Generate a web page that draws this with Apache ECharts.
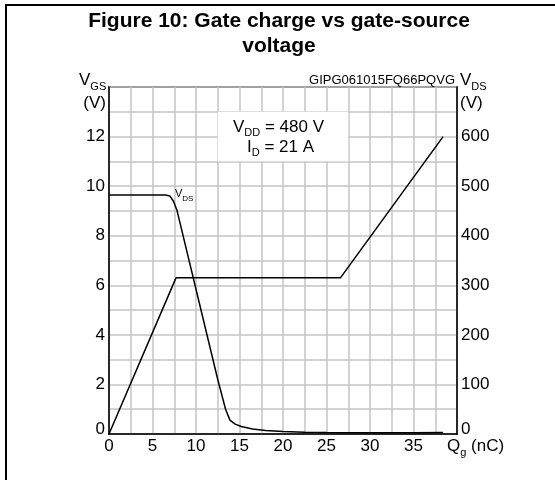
<!DOCTYPE html>
<html>
<head>
<meta charset="utf-8">
<script src="https://cdn.jsdelivr.net/npm/echarts@6/dist/echarts.min.js"></script>
<style>
html,body{margin:0;padding:0;background:#fff;}
#c{width:555px;height:480px;}
</style>
</head>
<body>
<div id="c"></div>
<script>
// ---- data ----
const titleLines = ['Figure 10: Gate charge vs gate-source', 'voltage'];
const codeText = 'GIPG061015FQ66PQVG';
const qgVgs = [0, 7.7, 26.6, 38.4];
const vgs = [0, 6.3, 6.3, 12];
const qgVds = [0, 6.5, 7.0, 7.4, 7.8, 12.5, 13.4, 13.9, 14.5, 15.2, 16.5, 18, 20, 22.5, 25, 30, 35, 38.4];
const vds = [482, 482, 480, 470, 452, 110, 50, 28, 20, 15, 10, 7, 5, 3.5, 3, 2.5, 2.5, 3];
const xLabels = [0, 5, 10, 15, 20, 25, 30, 35];
const yLeftLabels = [0, 2, 4, 6, 8, 10, 12];
const yRightLabels = [0, 100, 200, 300, 400, 500, 600];
const condBox = { x0: 12.5, x1: 27.5, y0: 11, y1: 13 };

const FF = '"Liberation Sans", Arial, sans-serif';
const cvs = document.createElement('canvas').getContext('2d');
function tw(t, size, weight) { cvs.font = (weight || 'normal') + ' ' + size + 'px ' + FF; return cvs.measureText(t).width; }
function txt(x, y, t, size, align, extra) {
  return Object.assign({ type: 'text', x: x, y: y, z: 100,
    style: { text: t, fontSize: size, fontFamily: FF, fill: '#000', textAlign: align || 'left', textVerticalAlign: 'middle' } }, extra || {});
}
// main text + subscript; x = left edge, y = center of main text
function subTxt(x, y, main, sub, size, subSize, dy) {
  const w = tw(main, size);
  return [txt(x, y, main, size, 'left'), txt(x + w, y + dy, sub, subSize, 'left')];
}
function pair(a, b) { return a.map((v, i) => [v, b[i]]); }

const chart = echarts.init(document.getElementById('c'), null, { renderer: 'canvas' });

const graphics = [
  { type: 'rect', shape: { x: 6, y: 5, width: 700, height: 700 }, style: { fill: 'none', stroke: '#000', lineWidth: 2 }, z: 100 },
  txt(279, 21, titleLines[0], 21, 'center', {}),
  txt(279, 46, titleLines[1], 21, 'center', {}),
  txt(455, 80, codeText, 13, 'right'),
  txt(106, 103, '(V)', 17, 'right'),
  txt(460, 103, '(V)', 17, 'left'),
  txt(486, 446, ' (nC)', 17, 'left')
];
graphics[1].style.fontWeight = 'bold';
graphics[2].style.fontWeight = 'bold';
graphics.push(...subTxt(79, 80, 'V', 'GS', 17, 11, 7));
graphics.push(...subTxt(460, 80, 'V', 'DS', 17, 11, 7));
graphics.push(...subTxt(447, 446, 'Q', 'g', 17, 11, 7));
graphics.push(...subTxt(233, 127, 'V', 'DD', 17, 11, 6));
graphics.push(...subTxt(175, 194, 'V', 'DS', 11, 8, 5));
(function () {
  const wV = tw('V', 17), wDD = tw('DD', 11);
  graphics.push(txt(233 + wV + wDD, 127, ' = 480 V', 17, 'left'));
  const wI = tw('I', 17), wD = tw('D', 11);
  graphics.push(...subTxt(247, 147, 'I', 'D', 17, 11, 6));
  graphics.push(txt(247 + wI + wD, 147, ' = 21 A', 17, 'left'));
})();
(function () {
  const w = tw('Q', 17) + tw('g', 11);
  graphics[6].x = 447 + w;
})();

const option = {
  animation: false,
  backgroundColor: '#fff',
  grid: { left: 109, right: 98, top: 87, bottom: 46, containLabel: false, outerBoundsMode: 'none',
    show: true, borderColor: '#000', borderWidth: 1.5, backgroundColor: 'transparent' },
  xAxis: {
    type: 'value', min: 0, max: 40, interval: 2.5,
    axisLine: { show: true, lineStyle: { color: '#000', width: 1.5 } },
    axisTick: { show: false },
    axisLabel: { color: '#000', fontSize: 17, fontFamily: FF, margin: 4,
      formatter: v => (xLabels.indexOf(v) >= 0 ? String(v) : '') },
    splitLine: { show: true, lineStyle: { color: '#c4c4c4', width: 1.5 } }
  },
  yAxis: [
    { type: 'value', min: 0, max: 14, interval: 1, position: 'left',
      axisLine: { show: true, lineStyle: { color: '#000', width: 1.5 } },
      axisTick: { show: false },
      axisLabel: { color: '#000', fontSize: 17, fontFamily: FF, margin: 4,
        formatter: v => (yLeftLabels.indexOf(v) >= 0 ? (v === 0 ? '{z|0}' : String(v)) : ''),
        rich: { z: { fontSize: 17, fontFamily: FF, color: '#000', padding: [0, 0, 10, 0] } } },
      splitLine: { show: true, lineStyle: { color: '#c4c4c4', width: 1.5 } } },
    { type: 'value', min: 0, max: 700, interval: 50, position: 'right',
      axisLine: { show: true, lineStyle: { color: '#000', width: 1.5 } },
      axisTick: { show: false },
      axisLabel: { color: '#000', fontSize: 17, fontFamily: FF, margin: 4,
        formatter: v => (yRightLabels.indexOf(v) >= 0 ? (v === 0 ? '{z|0}' : String(v)) : ''),
        rich: { z: { fontSize: 17, fontFamily: FF, color: '#000', padding: [0, 0, 10, 0] } } },
      splitLine: { show: false } }
  ],
  series: [
    { type: 'line', name: 'VGS', yAxisIndex: 0, data: pair(qgVgs, vgs), showSymbol: false, symbol: 'none',
      lineStyle: { color: '#000', width: 1.5 },
      markArea: { silent: true, itemStyle: { color: '#fff' },
        data: [[{ coord: [condBox.x0, condBox.y1] }, { coord: [condBox.x1, condBox.y0] }]] } },
    { type: 'line', name: 'VDS', yAxisIndex: 1, data: pair(qgVds, vds), showSymbol: false, symbol: 'none',
      lineStyle: { color: '#000', width: 1.5 } }
  ],
  graphic: graphics
};
chart.setOption(option);
</script>
</body>
</html>
